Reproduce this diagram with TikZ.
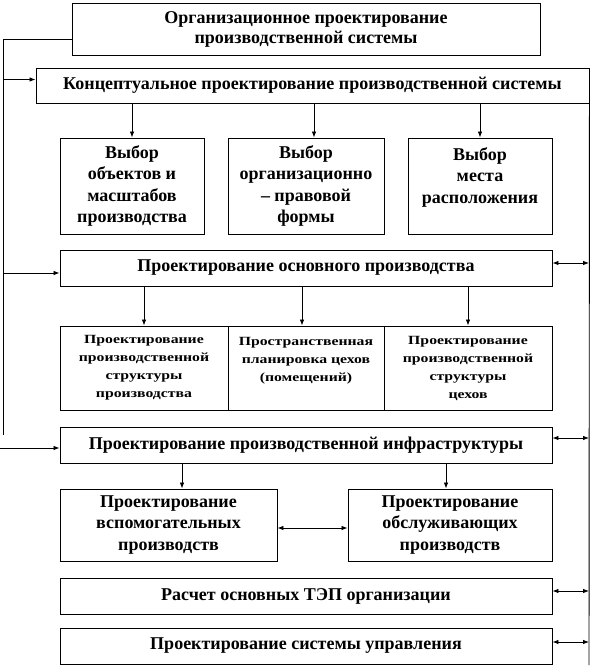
\documentclass[tikz,border=0pt]{standalone}
\usepackage{fontspec}
\setmainfont{Liberation Serif}
\newfontfamily\narrowf{Liberation Serif}[FakeStretch=1.26]
\usetikzlibrary{arrows.meta}
\tikzset{
  box/.style={draw, line width=0.9pt, inner sep=0pt, align=center, font=\bfseries\fontsize{18}{21.5}\selectfont},
  sbox/.style={draw, line width=0.9pt, inner sep=0pt, align=center, font=\narrowf\bfseries\fontsize{12.5}{18}\selectfont},
  ln/.style={line width=0.9pt},
  arr/.style={line width=0.8pt, -{Latex[length=6pt,width=4.5pt]}},
  darr/.style={line width=0.8pt, {Latex[length=6pt,width=4.5pt]}-{Latex[length=6pt,width=4.5pt]}}
}
\begin{document}
\begin{tikzpicture}[x=1pt,y=-1pt]
\useasboundingbox (0,0) rectangle (592,671);
% boxes
\node[box, minimum width=468, minimum height=52, font=\bfseries\fontsize{18}{20}\selectfont] (top) at (306,29) {Организационное проектирование\\производственной системы};
\node[box, minimum width=553, minimum height=35] (concept) at (312.5,85.5) {Концептуальное проектирование производственной системы};
\node[box, minimum width=144, minimum height=96] (v1) at (132,186) {Выбор\\объектов и\\масштабов\\производства};
\node[box, minimum width=156, minimum height=96] (v2) at (306,186) {Выбор\\организационно\\– правовой\\формы};
\node[box, minimum width=144, minimum height=96] (v3) at (480,186) {Выбор\\места\\расположения\\\mbox{}};
\node[box, minimum width=492, minimum height=36] (main) at (306,268) {Проектирование основного производства};
\node[sbox, minimum width=168, minimum height=84] (s1) at (144,368) {Проектирование\\производственной\\структуры\\производства};
\node[sbox, minimum width=156, minimum height=84] (s2) at (306,368) {Пространственная\\планировка цехов\\(помещений)\\\mbox{}};
\node[sbox, minimum width=168, minimum height=84] (s3) at (468,368) {Проектирование\\производственной\\структуры\\цехов};
\node[box, minimum width=492, minimum height=36] (infra) at (306,445) {Проектирование производственной инфраструктуры};
\node[box, minimum width=217, minimum height=72] (b1) at (168.5,525) {Проектирование\\вспомогательных\\производств};
\node[box, minimum width=204, minimum height=72] (b2) at (450,525) {Проектирование\\обслуживающих\\производств};
\node[box, minimum width=492, minimum height=36] (tep) at (306,596) {Расчет основных ТЭП организации};
\node[box, minimum width=492, minimum height=36] (upr) at (306,646) {Проектирование системы управления};
% left feedback line
\coordinate (lt) at (3,39);
\coordinate (lb) at (3,435);
\coordinate (li) at (0,448);
\draw[ln] ([yshift=-10pt]top.west) -- (lt) -- (lb);
\draw[arr] (lt |- 0,79.5) -- ([yshift=6pt]concept.west);
\draw[arr] (lt |- 0,273) -- ([yshift=-5pt]main.west);
\draw[arr] (li) -- ([yshift=-3pt]infra.west);
% right line
\coordinate (rb) at (589,665);
\draw[ln] (concept.south east) -- (rb);
\draw[darr] ([yshift=5pt]main.east) -- ([yshift=5pt]main.east -| rb);
\draw[darr] ([yshift=7pt]infra.east) -- ([yshift=7pt]infra.east -| rb);
\draw[darr] ([yshift=5pt]tep.east) -- ([yshift=5pt]tep.east -| rb);
\draw[darr] ([yshift=4pt]upr.east) -- ([yshift=4pt]upr.east -| rb);
% down arrows
\draw[arr] (concept.south -| v1.north) -- (v1.north);
\draw[arr] ([xshift=8pt]concept.south -| v2.north) -- ([xshift=8pt]v2.north);
\draw[arr] (concept.south -| v3.north) -- (v3.north);
\draw[arr] (main.south -| s1.north) -- (s1.north);
\draw[arr] ([xshift=-4pt]main.south -| s2.north) -- ([xshift=-4pt]s2.north);
\draw[arr] (main.south -| s3.north) -- (s3.north);
\draw[arr] ([xshift=13.5pt]infra.south -| b1.north) -- ([xshift=13.5pt]b1.north);
\draw[arr] ([xshift=-4pt]infra.south -| b2.north) -- ([xshift=-4pt]b2.north);
\draw[darr] ([yshift=-3pt]b1.east) -- ([yshift=-3pt]b2.west);
\end{tikzpicture}
\end{document}
